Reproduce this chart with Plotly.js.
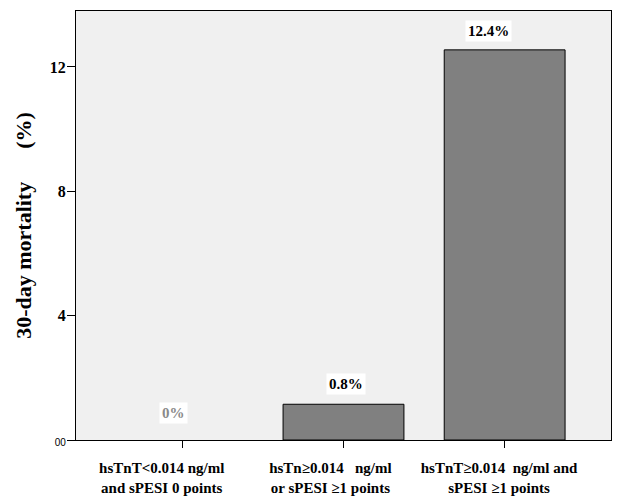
<!DOCTYPE html>
<html>
<head>
<meta charset="utf-8">
<script src="https://cdn.plot.ly/plotly-3.0.1.min.js"></script>
<style>
  html, body { margin: 0; padding: 0; background: #fff; }
  #chart { width: 637px; height: 503px; }
</style>
</head>
<body>
<div id="chart"></div>
<script>
// groups on the x axis
var groups = [
  "hsTnT<0.014 ng/ml<br>and sPESI 0 points",
  "hsTn≥0.014   ng/ml<br>or sPESI ≥1 points",
  "hsTnT≥0.014  ng/ml and<br>sPESI ≥1 points"
];
// bar heights as drawn in the picture (%)
var mortality = [0, 1.15, 12.55];
// printed value labels
var valueLabels = ["0%", "0.8%", "12.4%"];
var labelColors = ["#8a8a8a", "#000000", "#000000"];
var yTicks = [0, 4, 8, 12];
var yTickText = ["<span style='font-family:Liberation Sans;font-size:10px;font-weight:normal'>00</span>", "4", "8", "12"];

var serif = "Liberation Serif, Times New Roman, serif";
var nb = "\u00A0";

// labels sit a little left of their ticks in the original
function pad(label, n) {
  return label.split("<br>").map(function (line) {
    return line + nb.repeat(n);
  }).join("<br>");
}
var tickText = [pad(groups[0], 11), pad(groups[1], 7), pad(groups[2], 3)];
var labelShiftX = [-9, 2, -16];
var labelShiftY = [16, 9, 8];

var trace = {
  x: groups,
  y: mortality,
  type: "bar",
  width: 0.75,
  marker: {
    color: "#808080",
    line: { color: "#000000", width: mortality.map(function (v) { return v > 0 ? 1 : 0; }) }
  },
  hoverinfo: "skip"
};

var annotations = groups.map(function (g, i) {
  return {
    x: g,
    y: mortality[i],
    text: "<b>" + valueLabels[i] + "</b>",
    showarrow: false,
    yanchor: "bottom",
    yshift: labelShiftY[i],
    xshift: labelShiftX[i],
    bgcolor: "#ffffff",
    borderpad: 2,
    font: { family: serif, size: 15, color: labelColors[i] }
  };
});

var layout = {
  width: 637,
  height: 503,
  margin: { l: 76, r: 26, t: 11, b: 63 },
  paper_bgcolor: "#ffffff",
  plot_bgcolor: "#f0f0f0",
  showlegend: false,
  xaxis: {
    type: "category",
    range: [-0.66, 2.66],
    showline: true,
    mirror: true,
    linecolor: "#000000",
    linewidth: 1,
    ticks: "outside",
    ticklen: 7,
    tickcolor: "#000000",
    tickvals: groups,
    ticktext: tickText,
    showgrid: false,
    tickfont: { family: serif, size: 15, color: "#000000", weight: "bold" },
    ticklabelstandoff: 7,
    fixedrange: true
  },
  yaxis: {
    range: [0, 13.8],
    showline: true,
    mirror: true,
    linecolor: "#000000",
    linewidth: 1,
    ticks: "outside",
    ticklen: 8,
    tickcolor: "#000000",
    tickvals: yTicks,
    ticktext: yTickText,
    showgrid: false,
    zeroline: false,
    tickfont: { family: serif, size: 16, color: "#000000", weight: "bold" },
    ticklabelstandoff: -2,
    title: {
      text: "30-day mortality      (%)" + nb.repeat(4),
      font: { family: serif, size: 22, color: "#000000", weight: "bold" },
      standoff: 12
    },
    fixedrange: true
  },
  annotations: annotations
};

Plotly.newPlot("chart", [trace], layout, { displayModeBar: false, staticPlot: true });
</script>
</body>
</html>
